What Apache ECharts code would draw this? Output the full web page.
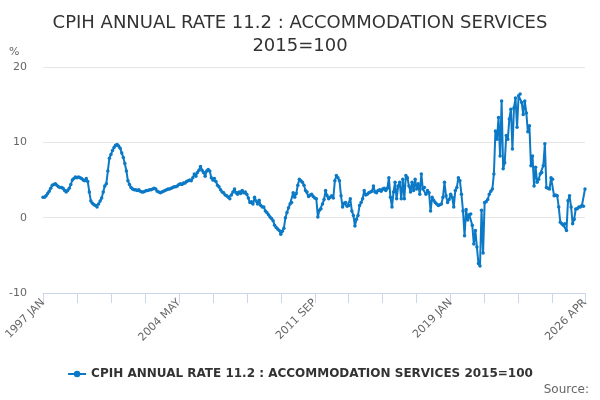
<!DOCTYPE html>
<html>
<head>
<meta charset="utf-8">
<script src="https://cdn.jsdelivr.net/npm/echarts@6/dist/echarts.min.js"></script>
<style>
html,body{margin:0;padding:0;background:#fff;}
#chart{width:600px;height:400px;}
</style>
</head>
<body>
<div id="chart"></div>
<script>
const monthNames = ['JAN','FEB','MAR','APR','MAY','JUN','JUL','AUG','SEP','OCT','NOV','DEC'];
const startYear = 1997;
const tickLabelIndexStep = 88;

const y1997 = [2.7, 2.7, 2.9, 3.2, 3.5, 3.9, 4.3, 4.4, 4.5, 4.3, 4.1, 4.0];
const y1998 = [4.0, 3.9, 3.6, 3.4, 3.6, 3.9, 4.4, 5.0, 5.2, 5.4, 5.3, 5.4];
const y1999 = [5.3, 5.2, 5.0, 4.9, 5.2, 4.8, 3.4, 2.2, 1.9, 1.7, 1.6, 1.4];
const y2000 = [1.8, 2.2, 2.6, 3.4, 4.2, 4.5, 6.2, 7.9, 8.4, 8.9, 9.3, 9.6];
const y2001 = [9.7, 9.5, 9.2, 8.6, 8.0, 7.2, 6.2, 4.9, 4.4, 4.0, 3.8, 3.7];
const y2002 = [3.7, 3.6, 3.7, 3.5, 3.4, 3.4, 3.5, 3.6, 3.6, 3.7, 3.7, 3.8];
const y2003 = [3.9, 3.8, 3.5, 3.4, 3.3, 3.4, 3.5, 3.6, 3.7, 3.8, 3.8, 3.9];
const y2004 = [4.0, 4.1, 4.1, 4.2, 4.4, 4.5, 4.4, 4.6, 4.6, 4.8, 4.9, 5.0];
const y2005 = [4.9, 5.3, 5.8, 5.5, 6.0, 6.3, 6.8, 6.3, 6.0, 5.5, 6.2, 6.4];
const y2006 = [6.2, 5.3, 5.0, 5.2, 4.8, 4.3, 4.1, 3.7, 3.4, 3.3, 3.0, 2.9];
const y2007 = [2.7, 2.5, 3.0, 3.4, 3.8, 3.3, 3.1, 3.4, 3.2, 3.6, 3.3, 3.4];
const y2008 = [3.1, 2.6, 2.0, 2.1, 1.8, 2.7, 2.2, 1.8, 2.3, 1.6, 1.4, 1.4];
const y2009 = [0.9, 0.7, 0.4, 0.1, -0.1, -0.4, -1.0, -1.3, -1.5, -1.7, -2.2, -1.8];
const y2010 = [-1.4, 0.0, 0.7, 1.3, 1.8, 2.0, 3.3, 2.7, 3.2, 4.3, 5.1, 4.9];
const y2011 = [4.7, 4.3, 3.6, 3.4, 2.8, 3.0, 3.1, 2.8, 2.6, 2.5, 0.1, 1.0];
const y2012 = [1.2, 1.8, 2.4, 3.6, 2.9, 2.5, 2.7, 2.9, 2.6, 4.9, 5.6, 5.3];
const y2013 = [4.9, 2.9, 1.4, 1.9, 2.0, 1.5, 1.6, 2.5, 0.9, 0.3, -1.1, -0.2];
const y2014 = [0.3, 1.6, 2.0, 2.5, 3.6, 3.0, 3.1, 3.3, 3.4, 3.5, 4.2, 3.4];
const y2015 = [3.3, 3.6, 3.7, 3.5, 3.8, 3.9, 3.6, 3.9, 5.3, 2.7, 1.4, 3.4];
const y2016 = [4.7, 2.5, 4.2, 4.7, 2.5, 5.1, 2.5, 5.6, 5.3, 4.2, 3.4, 4.7];
const y2017 = [3.6, 5.1, 3.8, 4.5, 3.1, 5.8, 3.8, 4.0, 3.1, 3.6, 3.3, 0.9];
const y2018 = [2.7, 2.3, 2.0, 1.8, 1.6, 1.7, 1.8, 2.7, 4.7, 2.9, 2.0, 2.4];
const y2019 = [3.1, 2.7, 1.4, 3.6, 4.0, 5.3, 4.9, 3.1, 0.9, -2.4, 1.1, -0.3];
const y2020 = [0.4, 0.5, -1.0, -3.5, -1.7, -3.9, -6.1, -6.4, 1.0, -4.7, 2.0, 2.1];
const y2021 = [2.4, 3.1, 3.5, 3.8, 5.8, 11.5, 10.4, 13.3, 8.2, 15.5, 6.5, 7.3];
const y2022 = [10.9, 10.4, 13.1, 14.4, 9.1, 14.6, 15.9, 12.0, 16.2, 16.4, 15.3, 13.7];
const y2023 = [15.5, 13.9, 11.4, 12.2, 6.9, 8.2, 4.2, 6.7, 4.7, 5.1, 5.8, 6.0];
const y2024 = [6.9, 9.8, 4.0, 3.9, 3.8, 5.3, 5.1, 2.9, 3.0, 2.9, 1.4, -0.6];
const y2025 = [-0.8, -1.0, -0.8, -1.7, 2.25, 2.9, 1.4, -0.8, -0.2, 1.15, 1.2, 1.4];
const y2026 = [1.4, 1.6, 1.5, 3.8];

const values = [].concat(y1997, y1998, y1999, y2000, y2001, y2002, y2003, y2004, y2005,
  y2006, y2007, y2008, y2009, y2010, y2011, y2012, y2013, y2014, y2015, y2016, y2017,
  y2018, y2019, y2020, y2021, y2022, y2023, y2024, y2025, y2026);

const categories = values.map((v, i) => (startYear + Math.floor(i / 12)) + ' ' + monthNames[i % 12]);
const lastIndex = categories.length - 1;

const seriesName = 'CPIH ANNUAL RATE 11.2 : ACCOMMODATION SERVICES 2015=100';
const titleText = 'CPIH ANNUAL RATE 11.2 : ACCOMMODATION SERVICES\n2015=100';
const font = 'DejaVu Sans';
const lineColor = '#0b79c6';

const chart = echarts.init(document.getElementById('chart'), null, {renderer: 'canvas'});
chart.setOption({
  animation: false,
  backgroundColor: '#ffffff',
  textStyle: {fontFamily: font},
  title: {
    text: titleText,
    left: 'center',
    top: 7,
    textStyle: {fontFamily: font, fontSize: 18, fontWeight: 'normal', color: '#333333', lineHeight: 23}
  },
  legend: {
    bottom: 15,
    left: 'center',
    itemWidth: 18,
    itemHeight: 8,
    textStyle: {fontFamily: font, fontSize: 12, fontWeight: 'bold', color: '#333333'},
    data: [seriesName]
  },
  grid: {left: 43, right: 15, top: 67, bottom: 107, containLabel: false},
  xAxis: {
    type: 'category',
    data: categories,
    boundaryGap: false,
    axisLine: {onZero: false, lineStyle: {color: '#ccd6eb'}},
    axisTick: {
      length: 10,
      lineStyle: {color: '#ccd6eb'},
      interval: (i) => i % 22 === 0 || i === lastIndex
    },
    axisLabel: {
      rotate: 45,
      color: '#666666',
      fontSize: 11,
      fontFamily: font,
      margin: 8,
      interval: (i) => i % tickLabelIndexStep === 0 || i === lastIndex
    },
    splitLine: {show: false}
  },
  yAxis: {
    type: 'value',
    min: -10,
    max: 20,
    interval: 10,
    axisLine: {show: false},
    axisTick: {show: false},
    axisLabel: {color: '#666666', fontSize: 11, fontFamily: font, margin: 16},
    splitLine: {lineStyle: {color: '#e6e6e6'}}
  },
  graphic: [
    {type: 'text', left: 9, top: 47, style: {text: '%', fill: '#666666', font: '11px ' + font}},
    {type: 'text', right: 11, bottom: 4, style: {text: 'Source:', fill: '#666666', font: '12px ' + font}}
  ],
  series: [{
    name: seriesName,
    type: 'line',
    data: values,
    color: lineColor,
    lineStyle: {width: 2, color: lineColor},
    itemStyle: {color: lineColor},
    symbol: 'circle',
    symbolSize: 3.5,
    showSymbol: true,
    showAllSymbol: true
  }]
});
</script>
</body>
</html>
